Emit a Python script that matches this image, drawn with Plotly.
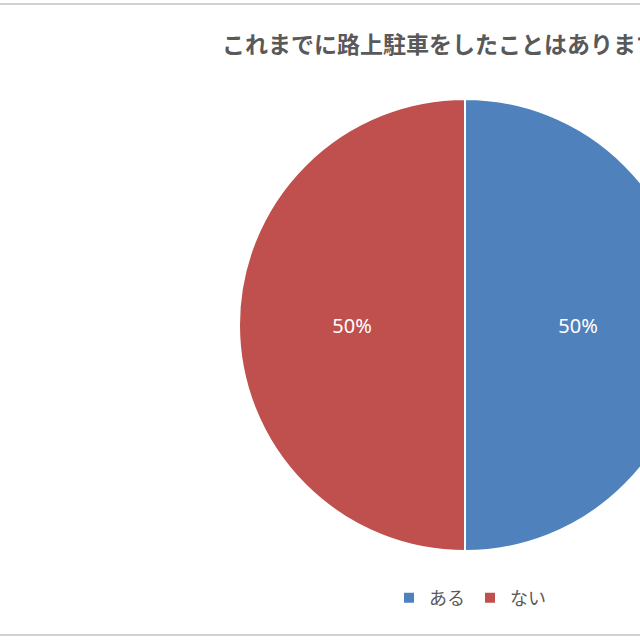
import plotly.graph_objects as go

labels = ["ある", "ない"]
values = [50, 50]
colors = ["#4F81BD", "#C0504D"]
title_text = "これまでに路上駐車をしたことはありますか？"

W, H = 930, 640
cx, cy, r = 465, 325, 226

fig = go.Figure(go.Pie(
    labels=labels, values=values, sort=False, direction="clockwise", rotation=0,
    marker=dict(colors=colors, line=dict(color="white", width=2)),
    textinfo="percent", textposition="inside",
    insidetextfont=dict(color="white", size=20, family="Noto Sans, sans-serif"),
    domain=dict(x=[(cx - r) / W, (cx + r) / W], y=[(H - cy - r) / H, (H - cy + r) / H]),
))

fig.update_layout(
    width=W, height=H, margin=dict(l=0, r=0, t=0, b=0),
    paper_bgcolor="white", plot_bgcolor="white",
    title=dict(text=title_text, x=222 / W, xanchor="left", xref="paper",
               y=1 - 45 / H, yanchor="middle", yref="container",
               font=dict(family="Noto Sans CJK JP", size=23, color="#595959", weight="bold")),
    legend=dict(orientation="h", x=470 / W, xanchor="center", y=1 - 598 / H, yanchor="middle",
                font=dict(family="Noto Sans CJK JP", size=18, color="#595959")),
    shapes=[
        dict(type="line", xref="paper", yref="paper", x0=0, x1=1, y0=1 - 4 / H, y1=1 - 4 / H,
             line=dict(color="#D0D0D0", width=2)),
        dict(type="line", xref="paper", yref="paper", x0=0, x1=1, y0=1 - 635 / H, y1=1 - 635 / H,
             line=dict(color="#D0D0D0", width=2)),
    ],
)

fig.write_html("out.html",
               post_script="document.body.style.margin='0';document.body.style.overflow='hidden';")
